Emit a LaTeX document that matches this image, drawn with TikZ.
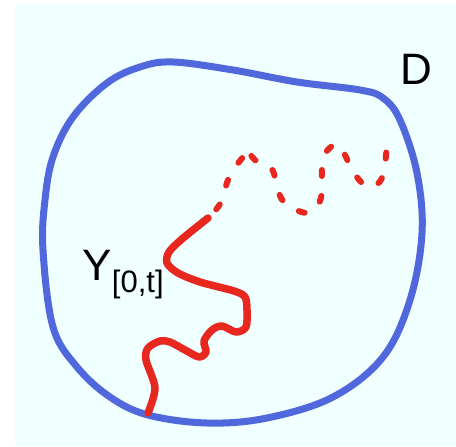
\documentclass[tikz,border=0pt]{standalone}
\usepackage{fontspec}
\setmainfont{Liberation Sans}
\usetikzlibrary{positioning}

\definecolor{bdryblue}{HTML}{5068DC}
\definecolor{walkred}{HTML}{E8281E}
\definecolor{bgcyan}{HTML}{F0FFFF}

\begin{document}
\begin{tikzpicture}[
      x=1pt, y=-1pt,
      bdry/.style={draw=bdryblue, line width=7pt, line join=round},
      walk/.style={draw=walkred, line width=7.5pt, line cap=round, line join=round},
      walkdash/.style={draw=walkred, line width=6pt, line cap=round, dash pattern=on 6pt off 20pt},
      lbl/.style={inner sep=0pt, font=\fontsize{44}{50}\selectfont},
      sublbl/.style={inner sep=0pt, font=\fontsize{31}{36}\selectfont}
    ]
    \useasboundingbox (0,0) rectangle (456,447);
    \fill[bgcyan] (15,4) rectangle (456,446);

    % boundary of D
    \draw[bdry] plot[smooth cycle, tension=0.6] coordinates {
      (173,62) (233,70) (297,82) (360,90) (383,98) (400,120) (417,173)
      (422,233) (410,300) (383,357) (333,397) (267,418) (207,423) (148,415)
      (110,397) (77,367) (53,327) (43,250) (45,200) (53,157) (73,117)
      (107,83) (140,67)};

    % gamma up to time t
    \draw[walk] plot[smooth, tension=0.5] coordinates {
      (148,413) (155,388) (146,360) (148,348) (160,341) (170,342) (185,350)
      (199,357) (206,352) (204,341) (212,330) (222,326) (236,332) (246,327)
      (247,310) (245,297) (234,291) (200,282) (178,273) (167,263) (169,252)
      (182,239) (208,218)};

    % rest of the path
    \draw[walkdash, dash phase=14pt] plot[smooth, tension=0.5] coordinates {
      (208,218) (220,204) (228,180) (236,166) (248,151)};
    \draw[walkdash, dash phase=20pt] plot[smooth, tension=0.5] coordinates {
      (248,151) (255,160) (266,164) (273,171) (276,182) (281,198) (290,207)
      (307,213) (318,205) (322,192) (322,168) (326,152) (337,144) (345,155)
      (352,170) (362,183) (372,187) (381,180) (385,165) (387,148) (393,136)};

    \node[lbl] (dlabel) at (416,69) {D};
    \node[lbl, anchor=base west] (glabel) at (82,280) {Y};
    \node[sublbl, anchor=base west] (gsub) at ([yshift=-12pt]glabel.base east) {[0,t]};
  \end{tikzpicture}
\end{document}
